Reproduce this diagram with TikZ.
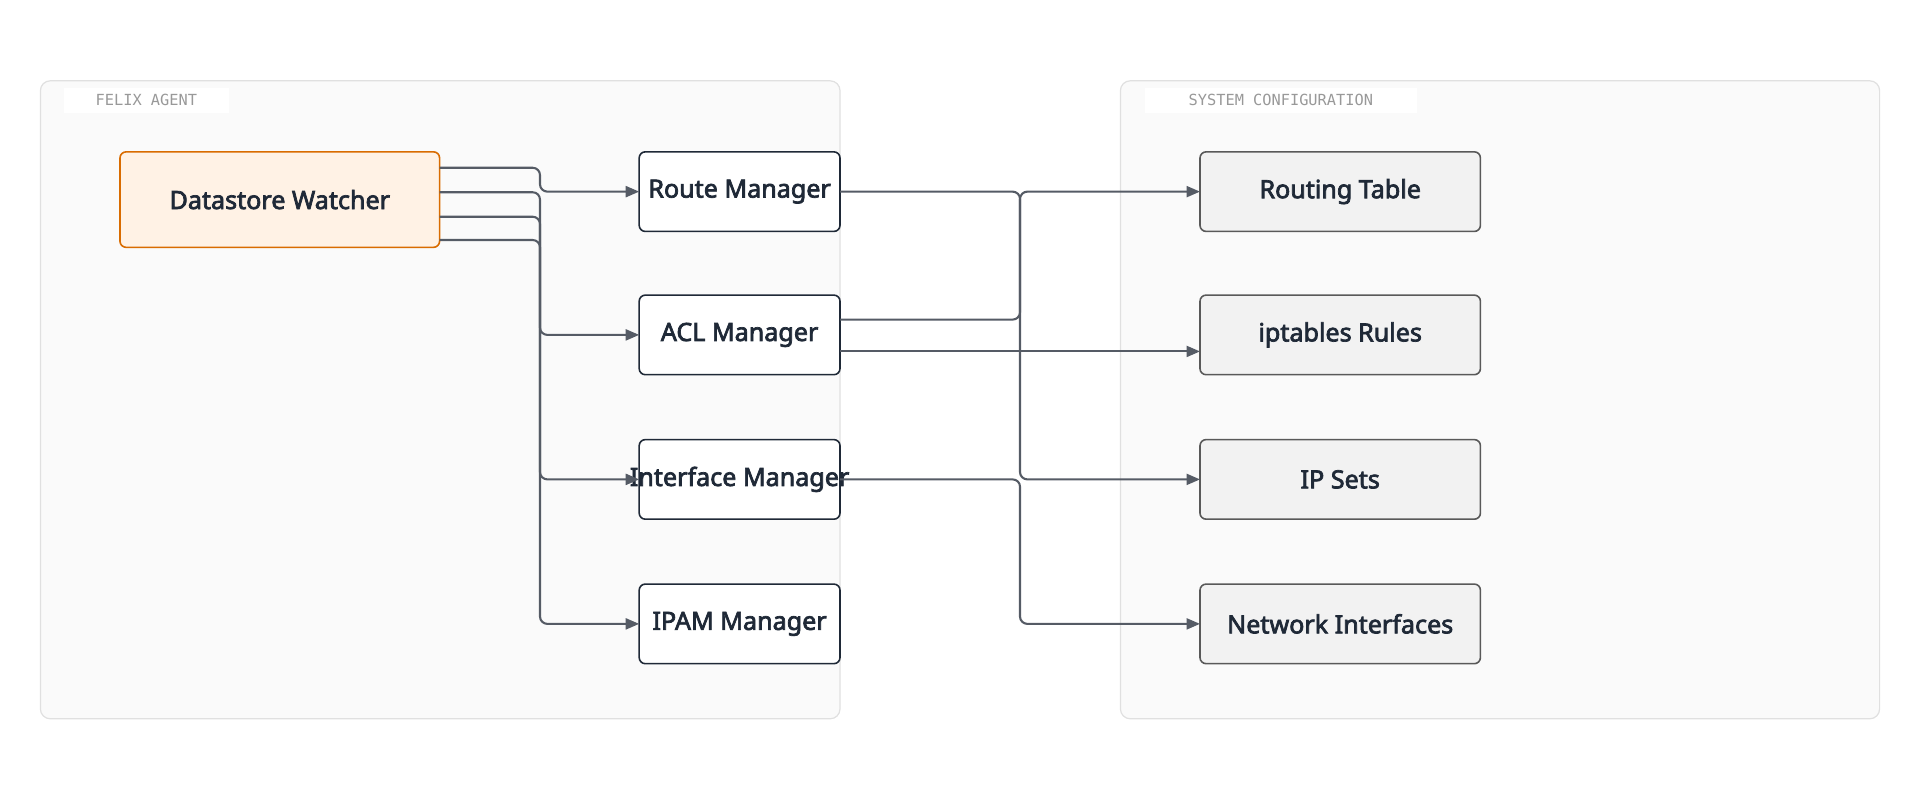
\documentclass[tikz,border=0pt]{standalone}
\usepackage{fontspec}
\setmainfont{Noto Sans}
\newfontfamily\boldf{Noto Sans}[FakeBold=2.8]
\newfontfamily\monof{DejaVu Sans Mono}
\usetikzlibrary{arrows.meta}
\definecolor{edge}{HTML}{555B65}
\definecolor{ink}{HTML}{1F2937}
\begin{document}
\begin{tikzpicture}[x=1pt,y=-1pt,
  cont/.style={draw=black!12,fill=black!2,rounded corners=8pt,line width=1pt},
  tab/.style={fill=white,draw=none,font=\monof\fontsize{12.5}{12}\selectfont,text=black!40},
  lbl/.style={font=\boldf\fontsize{20.5}{22}\selectfont,text=ink},
  box/.style={rounded corners=5pt,line width=1.3pt},
  mgr/.style={box,draw=ink,fill=white},
  sys/.style={box,draw=black!65,fill=black!5},
  ed/.style={draw=edge,line width=1.7pt,rounded corners=6pt,-{Triangle[length=11pt,width=9pt]}}]
\useasboundingbox (0,0) rectangle (1568,653);
\draw[cont] (33,66) rectangle (686,587);
\draw[cont] (915,66) rectangle (1535,587);
\node[tab,minimum width=135,minimum height=20] (t1) at (119.5,82) {FELIX AGENT};
\node[tab,minimum width=222,minimum height=20] (t2) at (1046,82) {SYSTEM CONFIGURATION};
\draw[box,draw=orange!85!black,fill=orange!10] (98,124) rectangle (359,202);
\node[lbl] (dw) at (228.5,163) {Datastore Watcher};
\foreach \n/\t/\y in {rm/Route Manager/156.5,acl/ACL Manager/273.5,im/Interface Manager/391.5,ipam/IPAM Manager/509.5}{
  \draw[mgr] (522,\y-32.5) rectangle (686,\y+32.5);
  \node[lbl] (\n) at (604,\y) {\t};
  \coordinate (\n-w) at (522,\y);
}
\foreach \n/\t/\y in {rt/Routing Table/156.5,ipt/iptables Rules/273.5,ips/IP Sets/391.5,ni/Network Interfaces/509.5}{
  \draw[sys] (980,\y-32.5) rectangle (1209,\y+32.5);
  \node[lbl] (\n) at (1094.5,\y) {\t};
  \coordinate (\n-w) at (980,\y);
}
\coordinate (d1) at (359,137); \coordinate (d2) at (359,157);
\coordinate (d3) at (359,177); \coordinate (d4) at (359,196);
\draw[ed] (d1) -- (441,137) -- (441,156.5) -- (rm-w);
\draw[ed] (d2) -- (441,157) -- (441,273.5) -- (acl-w);
\draw[ed] (d3) -- (441,177) -- (441,391.5) -- (im-w);
\draw[ed] (d4) -- (441,196) -- (441,509.5) -- (ipam-w);
\coordinate (rme) at (686,156.5); \coordinate (acl1) at (686,261);
\coordinate (acl2) at (686,287); \coordinate (ime) at (686,391.5);
\draw[ed] (rme) -- (833,156.5) -- (833,391.5) -- (ips-w);
\draw[ed] (acl1) -- (833,261) -- (833,156.5) -- (rt-w);
\draw[ed] (acl2) -- (980,287);
\draw[ed] (ime) -- (833,391.5) -- (833,509.5) -- (ni-w);
\end{tikzpicture}
\end{document}
